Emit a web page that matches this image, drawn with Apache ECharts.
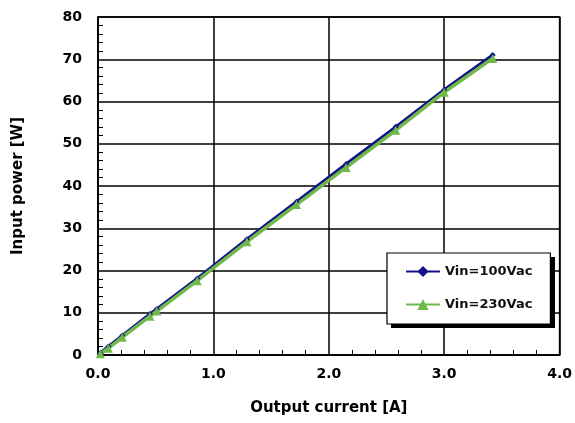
<!DOCTYPE html>
<html>
<head>
<meta charset="utf-8">
<script src="https://cdn.jsdelivr.net/npm/echarts@6/dist/echarts.min.js"></script>
<style>
  html, body { margin: 0; padding: 0; background: #fff; }
  #chart { width: 575px; height: 423px; }
</style>
</head>
<body>
<div id="chart"></div>
<script>
const seriesNames = ["Vin=100Vac", "Vin=230Vac"];
const currentA = [0.02, 0.09, 0.21, 0.45, 0.51, 0.86, 1.29, 1.72, 2.15, 2.58, 3.0, 3.42];
const power100 = [0.5, 2.0, 4.6, 9.7, 10.9, 18.1, 27.4, 36.3, 45.2, 54.0, 62.8, 71.0];
const power230 = [0.3, 1.6, 4.2, 9.2, 10.4, 17.6, 26.8, 35.6, 44.4, 53.2, 62.2, 70.2];

const pair = (xs, ys) => xs.map((x, i) => [x, ys[i]]);
const font = "DejaVu Sans";
const black = "#000";

const chart = echarts.init(document.getElementById("chart"));
chart.setOption({
  animation: false,
  textStyle: { fontFamily: font },
  grid: {
    left: 98,
    right: 13,
    top: 17,
    bottom: 68,
    show: true,
    borderColor: black,
    borderWidth: 1.5,
  },
  // drop shadow behind the legend box
  graphic: [
    {
      type: "rect",
      left: 391,
      top: 257,
      z: 10,
      shape: { width: 164, height: 71 },
      style: { fill: black },
    },
  ],
  legend: {
    orient: "vertical",
    left: 387,
    top: 253,
    z: 20,
    padding: [12, 18, 13, 18],
    itemWidth: 34,
    itemHeight: 14,
    itemGap: 20,
    backgroundColor: "#fff",
    borderColor: black,
    borderWidth: 1.2,
    borderRadius: 0,
    textStyle: { fontFamily: font, fontSize: 13, fontWeight: "bold", color: "#111" },
    data: seriesNames,
  },
  xAxis: {
    type: "value",
    min: 0,
    max: 4,
    interval: 1,
    name: "Output current [A]",
    nameLocation: "middle",
    nameGap: 46,
    nameTextStyle: { fontFamily: font, fontSize: 15, fontWeight: "bold", color: black },
    axisLine: { lineStyle: { color: black, width: 1.5 } },
    axisTick: { show: false, inside: true },
    minorTick: { show: true, splitNumber: 5, length: 5, lineStyle: { color: black, width: 1 } },
    axisLabel: {
      margin: 12,
      fontFamily: font,
      fontSize: 14,
      fontWeight: "bold",
      color: black,
      formatter: (v) => v.toFixed(1),
    },
    splitLine: { show: true, lineStyle: { color: black, width: 1.5 } },
  },
  yAxis: {
    type: "value",
    min: 0,
    max: 80,
    interval: 10,
    name: "Input power [W]",
    nameLocation: "middle",
    nameGap: 72,
    nameTextStyle: { fontFamily: font, fontSize: 15, fontWeight: "bold", color: black },
    axisLine: { show: true, lineStyle: { color: black, width: 1.5 } },
    axisTick: { show: false, inside: true },
    minorTick: { show: true, splitNumber: 5, length: 5, lineStyle: { color: black, width: 1 } },
    axisLabel: {
      margin: 16,
      fontFamily: font,
      fontSize: 14,
      fontWeight: "bold",
      color: black,
    },
    splitLine: { show: true, lineStyle: { color: black, width: 1.5 } },
  },
  series: [
    {
      name: seriesNames[0],
      type: "line",
      data: pair(currentA, power100),
      symbol: "diamond",
      symbolSize: 6,
      color: "#12128a",
      lineStyle: { width: 3, color: "#12128a" },
      itemStyle: { color: "#12128a" },
    },
    {
      name: seriesNames[1],
      type: "line",
      data: pair(currentA, power230),
      symbol: "triangle",
      symbolSize: 9,
      color: "#70b84a",
      lineStyle: { width: 3.5, color: "#70b84a" },
      itemStyle: { color: "#70b84a" },
    },
  ],
});
</script>
</body>
</html>
